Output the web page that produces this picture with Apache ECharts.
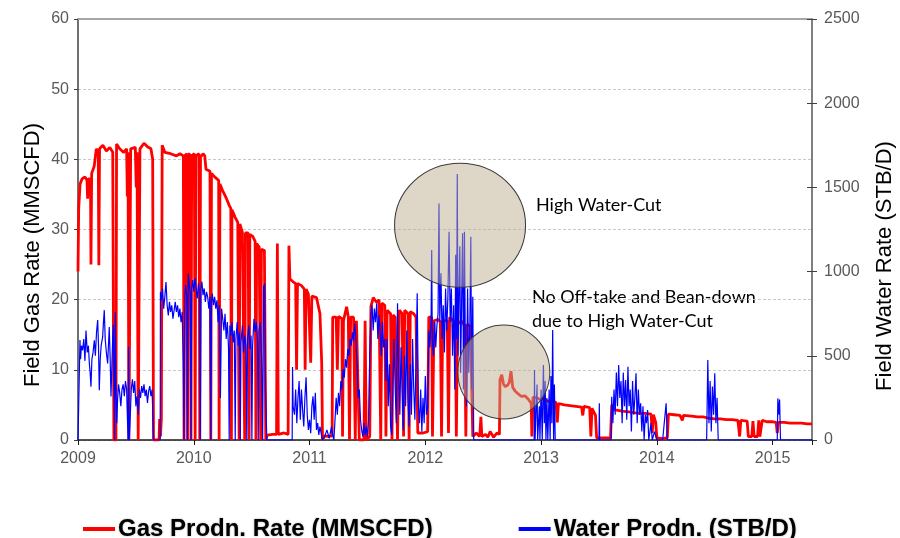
<!DOCTYPE html>
<html>
<head>
<meta charset="utf-8">
<script src="https://cdn.jsdelivr.net/npm/echarts@6/dist/echarts.min.js"></script>
<style>html,body{margin:0;padding:0;background:#fff}#c{width:900px;height:538px}</style>
</head>
<body>
<div id="c"></div>
<script>
// ---- Data ----
var yearTicks = [2009, 2010, 2011, 2012, 2013, 2014, 2015];
var gasTicks = [0, 10, 20, 30, 40, 50, 60];
var waterTicks = [0, 500, 1000, 1500, 2000, 2500];
var seriesNames = ['Gas Prodn. Rate (MMSCFD)', 'Water Prodn. (STB/D)'];

// [decimal year, MMSCFD]
var gasData = [
[2009.000,24],[2009.006,33],[2009.018,36.5],[2009.035,37.2],[2009.060,37.5],[2009.078,37],[2009.083,34.4],[2009.090,37.3],
[2009.108,37],[2009.112,25],[2009.118,38],[2009.140,39],[2009.158,41.5],[2009.175,41],[2009.180,24.9],[2009.186,41.5],
[2009.215,42],[2009.245,41.2],[2009.275,41.7],[2009.300,41],[2009.310,0],[2009.328,0],[2009.333,42.2],[2009.360,41.5],
[2009.395,41],[2009.420,41.5],[2009.426,34.7],[2009.432,41],[2009.440,0],[2009.450,0],[2009.455,41.5],[2009.495,41.7],
[2009.503,36],[2009.510,41],[2009.520,0],[2009.530,0],[2009.535,41.5],[2009.570,42.3],[2009.600,41.8],[2009.630,41.5],
[2009.645,40],[2009.652,0],[2009.700,0],[2009.705,3],[2009.712,0.5],[2009.720,3],[2009.727,42],[2009.750,41],
[2009.800,40.8],[2009.850,40.5],[2009.880,40.8],[2009.910,40.5],[2009.916,0],[2009.922,40.5],[2009.940,40.8],[2009.946,0],
[2009.952,40.8],[2009.970,40.6],[2009.976,0],[2009.982,40.5],[2010.005,40.8],[2010.012,0],[2010.018,40.5],[2010.045,40.8],
[2010.052,0],[2010.058,40.3],[2010.080,40.8],[2010.095,40.5],[2010.105,38.6],[2010.140,38.3],[2010.147,0],[2010.153,38],
[2010.180,37.5],[2010.215,37],[2010.219,0],[2010.226,36.5],[2010.250,35.5],[2010.280,34.5],[2010.310,33.3],[2010.320,33],
[2010.325,0],[2010.330,32.8],[2010.355,31.8],[2010.380,31],[2010.392,0],[2010.398,30.8],[2010.420,29.6],[2010.435,29.5],
[2010.440,0],[2010.446,29.5],[2010.470,29.5],[2010.478,0],[2010.484,29.3],[2010.510,29],[2010.530,28.3],[2010.537,0],
[2010.543,28],[2010.565,27.5],[2010.578,0],[2010.584,27.2],[2010.610,27],[2010.622,0],[2010.635,0.7],[2010.680,0.8],
[2010.715,0.8],[2010.722,28],[2010.730,0.8],[2010.780,1],[2010.815,0.8],[2010.822,27.7],[2010.830,23],[2010.860,22.5],
[2010.880,22.3],[2010.888,10],[2010.896,22.3],[2010.930,22],[2010.955,21.5],[2010.962,10],[2010.970,21.5],[2010.990,20.8],
[2011.000,20.8],[2011.010,11],[2011.020,20.5],[2011.060,20.3],[2011.090,18],[2011.105,11],[2011.112,0],[2011.130,0.6],
[2011.170,0.5],[2011.195,0.6],[2011.200,17.5],[2011.230,17.5],[2011.240,10],[2011.250,17.6],[2011.280,17.3],[2011.285,0.5],
[2011.293,17],[2011.320,19],[2011.335,17.5],[2011.345,0],[2011.355,17.5],[2011.380,17.5],[2011.395,0],[2011.405,17],
[2011.420,17.2],[2011.430,0],[2011.470,0],[2011.480,17],[2011.490,0],[2011.520,0.5],[2011.530,19],[2011.550,20.3],
[2011.580,19.6],[2011.600,20],[2011.615,0],[2011.625,19.5],[2011.650,19.2],[2011.660,0.5],[2011.670,18.5],[2011.700,18],
[2011.712,0],[2011.722,17.8],[2011.740,17.5],[2011.760,0],[2011.775,18.5],[2011.800,18],[2011.812,0.5],[2011.822,18.5],
[2011.850,18],[2011.860,0],[2011.870,18.3],[2011.900,18],[2011.920,17.5],[2011.935,1],[2011.980,1],[2012.020,1.2],
[2012.030,17.5],[2012.055,17.5],[2012.062,0.5],[2012.075,17],[2012.110,17.2],[2012.130,16.8],[2012.140,0.5],[2012.150,17],
[2012.190,17],[2012.200,1],[2012.210,17.5],[2012.240,17],[2012.260,16.6],[2012.268,0.5],[2012.278,16.5],[2012.310,17],
[2012.340,16.3],[2012.350,0.5],[2012.360,16.5],[2012.390,16.2],[2012.405,16],[2012.410,0.5],[2012.440,1],[2012.470,0.5],
[2012.480,3.3],[2012.488,0.5],[2012.520,0.8],[2012.540,0.4],[2012.560,1.2],[2012.590,0.4],[2012.620,1],[2012.640,0.8],
[2012.645,8.6],[2012.660,9.3],[2012.675,8],[2012.690,7.6],[2012.710,7.8],[2012.725,8.2],[2012.740,9.8],[2012.755,7.5],
[2012.775,7],[2012.800,6.6],[2012.830,6.2],[2012.860,6.3],[2012.890,5.8],[2012.915,5.2],[2012.920,0.5],[2012.930,6.1],
[2012.960,6],[2012.990,5.8],[2013.020,5.9],[2013.060,5.5],[2013.100,5.6],[2013.130,5.3],[2013.140,2.5],[2013.150,5.2],
[2013.200,5.0],[2013.250,4.9],[2013.300,4.8],[2013.350,4.7],[2013.360,3.5],[2013.370,4.8],[2013.420,4.6],[2013.430,0.5],
[2013.440,4.5],[2013.470,3.5],[2013.480,0.3],[2013.500,0.3],[2013.550,0.3],[2013.600,0.3],[2013.610,5.0],[2013.640,4.3],
[2013.700,4.1],[2013.760,4.0],[2013.800,3.9],[2013.850,3.8],[2013.900,3.8],[2013.950,3.7],[2013.960,1.0],[2013.970,3.6],
[2013.990,2.5],[2014.000,0.3],[2014.050,0.2],[2014.090,0.3],[2014.100,3.7],[2014.150,3.6],[2014.200,3.5],[2014.220,2.8],
[2014.230,3.5],[2014.300,3.4],[2014.350,3.3],[2014.400,3.3],[2014.450,3.1],[2014.500,3.0],[2014.550,3.0],[2014.600,2.9],
[2014.650,2.9],[2014.700,2.8],[2014.715,0.5],[2014.725,2.8],[2014.780,2.7],[2014.790,0.5],[2014.820,0.5],[2014.830,2.7],
[2014.840,0.5],[2014.870,0.5],[2014.880,2.8],[2014.890,0.5],[2014.905,0.5],[2014.910,2.8],[2014.950,2.6],[2015.000,2.6],
[2015.030,2.5],[2015.040,1],[2015.050,2.5],[2015.100,2.5],[2015.150,2.4],[2015.200,2.4],[2015.250,2.4],[2015.300,2.3],
[2015.340,2.3]
];

// [decimal year, STB/D]
var waterData = [
[2009.000,0],[2009.014,0],[2009.017,594],[2009.022,480],[2009.030,560],[2009.040,533],[2009.050,600],[2009.060,470],
[2009.069,650],[2009.080,520],[2009.090,560],[2009.098,454],[2009.105,400],[2009.112,317],[2009.120,480],[2009.130,520],
[2009.141,592],[2009.150,500],[2009.160,640],[2009.170,712],[2009.177,560],[2009.184,296],[2009.192,480],[2009.200,560],
[2009.213,612],[2009.220,700],[2009.227,771],[2009.235,600],[2009.245,520],[2009.256,454],[2009.263,560],[2009.270,671],
[2009.278,480],[2009.285,258],[2009.293,450],[2009.300,612],[2009.306,684],[2009.312,275],[2009.316,0],[2009.322,760],
[2009.327,320],[2009.335,100],[2009.342,240],[2009.350,330],[2009.360,280],[2009.370,200],[2009.380,300],[2009.390,330],
[2009.400,260],[2009.410,350],[2009.420,300],[2009.432,0],[2009.436,554],[2009.442,0],[2009.450,120],[2009.460,300],
[2009.470,360],[2009.480,280],[2009.490,350],[2009.500,200],[2009.510,260],[2009.520,150],[2009.530,300],[2009.540,250],
[2009.550,320],[2009.560,280],[2009.570,330],[2009.580,260],[2009.590,300],[2009.600,220],[2009.610,290],[2009.620,320],
[2009.630,260],[2009.640,300],[2009.650,310],[2009.653,0],[2009.710,0],[2009.712,880],[2009.720,830],[2009.730,900],
[2009.740,780],[2009.750,850],[2009.760,938],[2009.770,800],[2009.780,740],[2009.790,820],[2009.800,760],[2009.810,800],
[2009.820,720],[2009.830,770],[2009.840,820],[2009.850,760],[2009.860,800],[2009.870,730],[2009.880,780],[2009.890,700],
[2009.900,760],[2009.910,454],[2009.916,0],[2009.922,850],[2009.930,920],[2009.940,850],[2009.946,0],[2009.952,988],
[2009.960,930],[2009.970,870],[2009.976,0],[2009.982,900],[2009.990,950],[2010.000,880],[2010.010,960],[2010.020,900],
[2010.030,840],[2010.040,930],[2010.050,870],[2010.056,0],[2010.062,900],[2010.070,940],[2010.080,860],[2010.090,900],
[2010.100,820],[2010.110,880],[2010.120,850],[2010.130,780],[2010.140,850],[2010.147,0],[2010.153,820],[2010.160,870],
[2010.170,800],[2010.180,850],[2010.190,780],[2010.200,830],[2010.210,700],[2010.220,800],[2010.230,250],[2010.240,780],
[2010.250,720],[2010.260,650],[2010.270,750],[2010.280,600],[2010.290,700],[2010.300,550],[2010.306,0],[2010.312,680],
[2010.320,620],[2010.330,700],[2010.340,580],[2010.350,650],[2010.358,0],[2010.364,600],[2010.375,700],[2010.385,560],
[2010.395,640],[2010.402,0],[2010.408,580],[2010.420,680],[2010.430,520],[2010.440,620],[2010.450,560],[2010.458,0],
[2010.464,600],[2010.475,680],[2010.485,540],[2010.495,620],[2010.502,0],[2010.508,560],[2010.520,720],[2010.530,640],
[2010.540,700],[2010.550,600],[2010.557,0],[2010.563,650],[2010.575,700],[2010.585,500],[2010.595,0],[2010.603,908],
[2010.612,930],[2010.620,300],[2010.630,0],[2010.850,0],[2010.853,434],[2010.858,200],[2010.870,150],[2010.880,300],
[2010.890,100],[2010.900,250],[2010.910,350],[2010.920,120],[2010.930,300],[2010.940,180],[2010.950,80],[2010.960,250],
[2010.970,372],[2010.980,150],[2010.990,60],[2011.000,120],[2011.010,40],[2011.020,200],[2011.030,260],[2011.040,120],
[2011.050,280],[2011.060,60],[2011.070,100],[2011.080,30],[2011.090,80],[2011.100,40],[2011.110,0],[2011.130,20],
[2011.150,60],[2011.170,10],[2011.190,80],[2011.200,30],[2011.210,0],[2011.220,120],[2011.230,250],[2011.240,150],
[2011.250,280],[2011.260,200],[2011.270,350],[2011.280,300],[2011.290,420],[2011.300,370],[2011.310,480],[2011.320,430],
[2011.330,540],[2011.340,500],[2011.350,600],[2011.360,560],[2011.370,640],[2011.380,590],[2011.390,692],[2011.400,600],
[2011.410,450],[2011.420,250],[2011.430,300],[2011.440,120],[2011.450,60],[2011.460,20],[2011.470,100],[2011.480,30],
[2011.490,80],[2011.500,20],[2011.510,120],[2011.520,500],[2011.530,750],[2011.540,800],[2011.550,650],[2011.560,780],
[2011.570,700],[2011.580,812],[2011.590,600],[2011.600,740],[2011.610,650],[2011.620,500],[2011.630,700],[2011.640,550],
[2011.650,600],[2011.660,350],[2011.670,600],[2011.680,200],[2011.690,450],[2011.700,80],[2011.710,30],[2011.720,350],
[2011.730,600],[2011.740,300],[2011.750,100],[2011.760,812],[2011.770,400],[2011.780,150],[2011.790,550],[2011.800,300],
[2011.810,60],[2011.820,500],[2011.830,200],[2011.840,650],[2011.850,250],[2011.860,80],[2011.870,450],[2011.880,150],
[2011.890,600],[2011.900,300],[2011.910,120],[2011.920,500],[2011.930,871],[2011.940,200],[2011.950,100],[2011.960,300],
[2011.970,50],[2011.980,250],[2011.990,100],[2012.000,380],[2012.010,150],[2012.020,200],[2012.030,650],[2012.040,550],
[2012.050,730],[2012.055,1128],[2012.060,600],[2012.070,500],[2012.080,700],[2012.090,550],[2012.100,680],[2012.110,750],
[2012.118,1405],[2012.125,700],[2012.135,990],[2012.145,600],[2012.155,800],[2012.165,520],[2012.175,900],[2012.185,650],
[2012.195,850],[2012.205,1237],[2012.215,700],[2012.225,900],[2012.235,500],[2012.245,800],[2012.255,300],[2012.262,1100],
[2012.270,600],[2012.276,1580],[2012.282,500],[2012.290,850],[2012.298,1150],[2012.305,400],[2012.315,900],[2012.322,1228],
[2012.330,300],[2012.338,1237],[2012.345,600],[2012.355,200],[2012.365,900],[2012.375,400],[2012.385,700],[2012.393,1207],
[2012.400,300],[2012.410,850],[2012.418,0],[2012.940,0],[2012.943,416],[2012.948,0],[2012.960,0],[2012.965,330],
[2012.970,0],[2012.985,200],[2012.990,0],[2013.000,300],[2013.010,0],[2013.020,445],[2013.028,100],[2013.035,350],
[2013.042,0],[2013.050,250],[2013.058,0],[2013.070,300],[2013.078,0],[2013.085,380],[2013.093,100],[2013.100,653],
[2013.108,0],[2013.115,330],[2013.122,0],[2013.500,0],[2013.503,218],[2013.506,0],[2013.605,0],[2013.610,257],
[2013.620,100],[2013.630,300],[2013.640,150],[2013.650,400],[2013.660,200],[2013.670,445],[2013.680,250],[2013.690,350],
[2013.700,100],[2013.710,400],[2013.720,200],[2013.730,356],[2013.740,120],[2013.750,435],[2013.760,200],[2013.770,300],
[2013.780,50],[2013.790,350],[2013.800,150],[2013.810,250],[2013.820,396],[2013.830,100],[2013.840,300],[2013.850,150],
[2013.860,218],[2013.870,50],[2013.880,200],[2013.890,0],[2013.900,150],[2013.910,100],[2013.920,178],[2013.930,0],
[2013.950,100],[2013.960,0],[2013.980,50],[2014.000,0],[2014.050,0],[2014.080,218],[2014.090,0],[2014.430,0],
[2014.440,475],[2014.450,100],[2014.460,350],[2014.470,50],[2014.480,317],[2014.490,150],[2014.500,396],[2014.510,100],
[2014.520,250],[2014.530,0],[2015.040,0],[2015.045,247],[2015.055,150],[2015.060,240],[2015.068,0],[2015.340,0]
];

// annotation ellipses: [year, gas-axis value]
var annoHighWC = [2012.300, 30.6];
var annoBeanDown = [2012.678, 9.7];
var annoTexts = ['High Water-Cut', 'No Off-take and Bean-down', 'due to High Water-Cut'];

var chart = echarts.init(document.getElementById('c'), null, {renderer: 'canvas'});
var tickFont = {color: '#595959', fontSize: 16, fontFamily: 'Liberation Sans, Arial, sans-serif'};
var circleStyle = {color: 'rgba(189,173,141,0.5)', borderColor: '#3a3a3a', borderWidth: 1};

var option = {
  animation: false,
  backgroundColor: '#fff',
  grid: {left: 78, right: 88, top: 19, bottom: 98, containLabel: false},
  legend: {
    data: seriesNames,
    left: 83, top: 517, padding: 0, itemGap: 86, itemWidth: 32, itemHeight: 4, icon: 'rect',
    textStyle: {fontSize: 24, fontWeight: 'bold', color: '#000', fontFamily: 'Liberation Sans, Arial, sans-serif', padding: [0,0,0,-2],
      textShadowColor: 'rgba(0,0,0,0.35)', textShadowBlur: 2}
  },
  xAxis: [{
    type: 'value', min: 2009, max: 2015.34, interval: 1,
    axisLine: {show: true, lineStyle: {color: '#1a1a1a', width: 1.5}},
    axisTick: {show: true, length: 5, lineStyle: {color: '#1a1a1a'}},
    axisLabel: Object.assign({margin: 11, formatter: function (v) { return yearTicks.indexOf(v) >= 0 ? String(v) : ''; }}, tickFont),
    splitLine: {show: false}
  }, {
    type: 'value', position: 'top', min: 2009, max: 2015.34,
    axisLine: {show: true, onZero: false, lineStyle: {color: '#a6a6a6', width: 2}},
    axisTick: {show: false}, axisLabel: {show: false}, splitLine: {show: false}
  }],
  yAxis: [{
    type: 'value', min: 0, max: 60, interval: 10, position: 'left',
    axisLine: {show: true, lineStyle: {color: '#404040', width: 1.5}},
    axisTick: {show: true, length: 4, lineStyle: {color: '#404040'}},
    axisLabel: Object.assign({margin: 9, formatter: function (v) { return gasTicks.indexOf(v) >= 0 ? String(v) : ''; }}, tickFont),
    splitLine: {show: true, lineStyle: {color: '#c8c8c8', type: [3, 2], width: 1}}
  }, {
    type: 'value', min: 0, max: 2500, interval: 500, position: 'right',
    axisLine: {show: true, lineStyle: {color: '#7f7f7f', width: 2}},
    axisTick: {show: true, length: 5, lineStyle: {color: '#404040'}},
    axisLabel: Object.assign({margin: 12, formatter: function (v) { return waterTicks.indexOf(v) >= 0 ? String(v) : ''; }}, tickFont),
    splitLine: {show: false}
  }, {
    type: 'value', min: 0, max: 2500, interval: 500, position: 'right',
    axisLine: {show: false}, axisLabel: {show: false}, splitLine: {show: false},
    axisTick: {show: true, inside: true, length: 5, lineStyle: {color: '#404040'}}
  }],
  series: [{
    name: seriesNames[0], type: 'line', xAxisIndex: 0, yAxisIndex: 0,
    data: gasData, showSymbol: false, symbol: 'none', sampling: null,
    lineStyle: {color: '#ff0000', width: 2.8}, itemStyle: {color: '#ff0000'}, z: 2,
    markPoint: {
      symbol: 'circle', silent: true, label: {show: false},
      data: [
        {coord: annoHighWC, symbolSize: [131, 124], itemStyle: circleStyle},
        {coord: annoBeanDown, symbolSize: [92, 94], itemStyle: circleStyle}
      ]
    }
  }, {
    name: seriesNames[1], type: 'line', xAxisIndex: 0, yAxisIndex: 1,
    data: waterData, showSymbol: false, symbol: 'none',
    lineStyle: {color: '#0000ff', width: 1.2}, itemStyle: {color: '#0000ff'}, z: 3
  }],
  graphic: [
    {type: 'text', x: 33, y: 255, rotation: Math.PI / 2, style: {text: 'Field Gas Rate (MMSCFD)', fill: '#000', font: '22px "Liberation Sans", Arial, sans-serif', textAlign: 'center', textVerticalAlign: 'middle'}},
    {type: 'text', x: 885, y: 266, rotation: Math.PI / 2, style: {text: 'Field Water Rate (STB/D)', fill: '#000', font: '22px "Liberation Sans", Arial, sans-serif', textAlign: 'center', textVerticalAlign: 'middle'}},
    {type: 'text', x: 536, y: 205, style: {text: annoTexts[0], fill: '#000', font: '18px Lato, "Open Sans", sans-serif', textAlign: 'left', textVerticalAlign: 'middle'}},
    {type: 'text', x: 532, y: 297, style: {text: annoTexts[1], fill: '#000', font: '18px Lato, "Open Sans", sans-serif', textAlign: 'left', textVerticalAlign: 'middle'}},
    {type: 'text', x: 532, y: 321, style: {text: annoTexts[2], fill: '#000', font: '18px Lato, "Open Sans", sans-serif', textAlign: 'left', textVerticalAlign: 'middle'}}
  ]
};
chart.setOption(option);
</script>
</body>
</html>
